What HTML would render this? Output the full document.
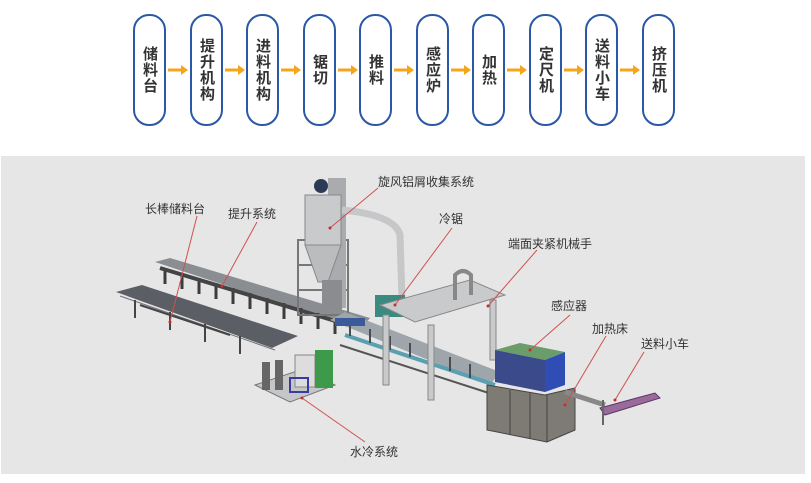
<!DOCTYPE html>
<html><head><meta charset="utf-8"><style>
html,body{margin:0;padding:0;background:#fff;width:811px;height:483px;overflow:hidden;font-family:"Liberation Sans","Noto Sans CJK SC",sans-serif;}
.pill{position:absolute;top:14px;width:29px;height:108px;border:2px solid #2b58a6;border-radius:16px;background:#fff;display:flex;align-items:center;justify-content:center;}
.pill span{writing-mode:vertical-rl;text-orientation:upright;font-size:15px;color:#333;letter-spacing:1px;font-weight:bold;}
.gray{position:absolute;left:1px;top:156px;width:804px;height:318px;background:#e6e6e6;}
svg{position:absolute;left:0;top:0;}
</style></head><body>
<div class="pill" style="left:133px"><span>储料台</span></div>
<div class="pill" style="left:190px"><span>提升机构</span></div>
<div class="pill" style="left:246px"><span>进料机构</span></div>
<div class="pill" style="left:303px"><span>锯切</span></div>
<div class="pill" style="left:359px"><span>推料</span></div>
<div class="pill" style="left:416px"><span>感应炉</span></div>
<div class="pill" style="left:472px"><span>加热</span></div>
<div class="pill" style="left:529px"><span>定尺机</span></div>
<div class="pill" style="left:585px"><span>送料小车</span></div>
<div class="pill" style="left:642px"><span>挤压机</span></div>
<svg width="811" height="150" style="top:0">
<g fill="#f4a51c" stroke="#f4a51c">
<path d="M168 70h14" stroke-width="3"/><path d="M181 65l7 5-7 5z" stroke="none"/>
<path d="M225 70h14" stroke-width="3"/><path d="M238 65l7 5-7 5z" stroke="none"/>
<path d="M281 70h14" stroke-width="3"/><path d="M294 65l7 5-7 5z" stroke="none"/>
<path d="M338 70h14" stroke-width="3"/><path d="M351 65l7 5-7 5z" stroke="none"/>
<path d="M394 70h14" stroke-width="3"/><path d="M407 65l7 5-7 5z" stroke="none"/>
<path d="M451 70h14" stroke-width="3"/><path d="M464 65l7 5-7 5z" stroke="none"/>
<path d="M507 70h14" stroke-width="3"/><path d="M520 65l7 5-7 5z" stroke="none"/>
<path d="M564 70h14" stroke-width="3"/><path d="M577 65l7 5-7 5z" stroke="none"/>
<path d="M620 70h14" stroke-width="3"/><path d="M633 65l7 5-7 5z" stroke="none"/>
</g></svg>
<div class="gray"></div>
<svg width="811" height="483">
<!-- lift rail -->
<polygon points="155,262 170,258 370,318 360,330" fill="#8a8d92"/>
<g stroke="#3a3c40" stroke-width="3">
<path d="M165,268 l0,16 M182,273 l0,16 M199,278 l0,16 M216,283 l0,16 M233,288 l0,16 M250,293 l0,16 M267,298 l0,16 M284,303 l0,16 M301,308 l0,16 M318,313 l0,16 M335,318 l0,16"/>
</g>
<path d="M160,268 L365,330" stroke="#444" stroke-width="4"/>
<!-- storage table -->
<polygon points="116,292 142,285 298,336 272,348" fill="#5b5e64"/>
<path d="M120,296 L275,350" stroke="#6e7176" stroke-width="1"/>
<g stroke="#444" stroke-width="2"><path d="M135,300v18 M170,312v18 M205,324v18 M240,336v18 M230,335 L140,305"/></g>
<!-- cyclone tower -->
<rect x="298" y="240" width="50" height="75" fill="none" stroke="#777" stroke-width="2"/>
<path d="M298,265h50 M298,290h50" stroke="#777" stroke-width="2"/>
<rect x="328" y="178" width="18" height="130" fill="#a9abae"/>
<rect x="305" y="195" width="36" height="50" fill="#c9cacc" stroke="#888"/>
<polygon points="305,245 341,245 328,282 318,282" fill="#bbbcbe" stroke="#888"/>
<rect x="322" y="280" width="20" height="30" fill="#8a8c8f"/>
<circle cx="321" cy="186" r="7" fill="#2b3a55"/>
<!-- pipe -->
<path d="M342,210 Q395,215 400,235 L402,300" fill="none" stroke="#c6c7c9" stroke-width="7"/>
<!-- main conveyor -->
<polygon points="330,320 345,312 500,372 490,385" fill="#9ea6ab"/>
<path d="M345,335 L495,385" stroke="#5aa0b0" stroke-width="4"/>
<path d="M340,345 L495,395" stroke="#555" stroke-width="2"/>
<g stroke="#4a4c50" stroke-width="2"><path d="M350,322v14 M370,329v14 M390,336v14 M410,343v14 M430,350v14 M450,357v14 M470,364v14"/></g>
<rect x="335" y="318" width="30" height="8" fill="#3a5a9a"/>
<!-- saw -->
<rect x="375" y="295" width="30" height="22" fill="#3a8a80"/>
<!-- gantry -->
<g fill="#c9cacc" stroke="#888">
<polygon points="380,305 470,280 505,295 415,322"/>
<rect x="383" y="315" width="6" height="70"/>
<rect x="428" y="325" width="6" height="75"/>
<rect x="490" y="300" width="6" height="60"/>
</g>
<path d="M455,300 v-25 q8,-8 16,0 v20" fill="none" stroke="#888" stroke-width="4"/>
<!-- induction -->
<polygon points="495,350 520,343 565,352 545,360" fill="#6a9d6a"/>
<polygon points="495,350 545,360 545,392 495,382" fill="#3a4a8a"/>
<polygon points="545,360 565,352 565,385 545,392" fill="#2f4db5"/>
<!-- heater base -->
<polygon points="487,385 545,395 575,388 575,430 547,442 487,430" fill="#7e7a74" stroke="#444"/>
<path d="M510,390v45 M530,393v45 M547,395v47" stroke="#444"/>
<path d="M565,392 L605,405" stroke="#888" stroke-width="5"/>
<!-- cart -->
<polygon points="600,408 655,393 660,398 605,415" fill="#9a6a9a" stroke="#5a3a6a"/>
<path d="M603,400v25" stroke="#666" stroke-width="2"/>
<!-- water cooling -->
<polygon points="255,385 300,370 335,385 290,402" fill="#c5c6c8" stroke="#777"/>
<rect x="262" y="362" width="8" height="28" fill="#666"/>
<rect x="275" y="360" width="8" height="30" fill="#666"/>
<rect x="295" y="355" width="20" height="32" fill="#ddd" stroke="#888"/>
<rect x="315" y="350" width="18" height="38" fill="#3c9a4a"/>
<rect x="290" y="378" width="18" height="14" fill="none" stroke="#3a3aa0" stroke-width="2"/>
<!-- leader lines -->
<g stroke="#d05050" stroke-width="1" fill="none">
<path d="M197,216 L170,322"/><path d="M257,222 L222,286"/><path d="M378,188 L330,228"/>
<path d="M452,228 L395,305"/><path d="M537,250 L488,306"/><path d="M570,315 L530,350"/>
<path d="M606,336 L565,405"/><path d="M644,352 L615,400"/><path d="M365,442 L302,398"/>
</g>
<g fill="#c03030"><circle cx="170" cy="322" r="1.5"/><circle cx="222" cy="286" r="1.5"/><circle cx="330" cy="228" r="1.5"/><circle cx="395" cy="305" r="1.5"/><circle cx="488" cy="306" r="1.5"/><circle cx="530" cy="350" r="1.5"/><circle cx="565" cy="405" r="1.5"/><circle cx="615" cy="400" r="1.5"/><circle cx="302" cy="398" r="1.5"/></g>
<g font-family="Liberation Sans,Noto Sans CJK SC,sans-serif" font-size="12" fill="#333">
<text x="145" y="213">长棒储料台</text>
<text x="228" y="218">提升系统</text>
<text x="378" y="186">旋风铝屑收集系统</text>
<text x="439" y="223">冷锯</text>
<text x="508" y="248">端面夹紧机械手</text>
<text x="551" y="310">感应器</text>
<text x="592" y="333">加热床</text>
<text x="641" y="348">送料小车</text>
<text x="350" y="456">水冷系统</text>
</g>
</svg>
</body></html>
